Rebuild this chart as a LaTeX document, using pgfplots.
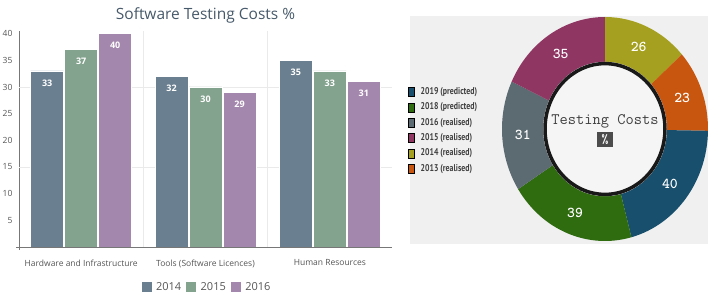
\documentclass[border=0pt]{standalone}
\usepackage{fontspec}
\setmainfont{Open Sans}
\newfontfamily\legfont[FakeStretch=0.8]{PT Sans}
\usepackage{pgfplots}
\usepackage{pgfplotstable}
\pgfplotsset{compat=1.18}

% bar chart colours
\definecolor{c2014}{HTML}{6A7F8F}
\definecolor{c2015}{HTML}{84A38E}
\definecolor{c2016}{HTML}{A487AD}
\definecolor{titlecol}{HTML}{46596A}
\definecolor{labelcol}{HTML}{555555}
\definecolor{gridcol}{HTML}{EAEAEA}
% donut colours
\definecolor{panelbg}{HTML}{F0F0F0}
\definecolor{holebg}{HTML}{F5F5F5}
\definecolor{dBlue}{HTML}{184F6D}
\definecolor{dGreen}{HTML}{2F6B0F}
\definecolor{dGrey}{HTML}{5C6A72}
\definecolor{dMagenta}{HTML}{8F3663}
\definecolor{dOlive}{HTML}{A5A020}
\definecolor{dOrange}{HTML}{C8560F}

\pgfplotstableread{
cat y2014 y2015 y2016
0   33    37    40
1   32    30    29
2   35    33    31
}\costs

% clockwise from twelve o'clock
\pgfplotstableread{
value colour
26 dOlive
23 dOrange
40 dBlue
39 dGreen
31 dGrey
35 dMagenta
}\donut

\tikzset{donut label/.style={text=white, font=\ttfamily\bfseries\fontsize{15}{15}\selectfont}}

\begin{document}
\begin{tikzpicture}
\fill[panelbg] (410pt,-16pt) rectangle (708pt,-244pt);

\begin{axis}[
  at={(19pt,-247pt)}, anchor=south west,
  scale only axis, width=373pt, height=216pt,
  xmin=-0.5, xmax=2.5, ymin=0, ymax=40.5,
  ybar=1pt, bar width=33pt,
  axis x line*=bottom, axis y line*=left,
  axis line style={draw=labelcol!80, line width=0.6pt, -},
  x axis line style={shorten <=-3pt},
  y axis line style={shorten <=-3pt},
  xtick={0,1,2},
  xticklabels={Hardware and Infrastructure, Tools (Software Licences), Human Resources},
  ytick={5,10,...,40},
  major tick length=0pt,
  /pgf/number format/assume math mode=true,
  tick label style={text=labelcol, font=\fontsize{8.5}{10}\selectfont},
  yticklabel style={xshift=-3pt},
  xticklabel style={yshift=-9pt},
  extra x ticks={0.5,1.5}, extra x tick labels={},
  extra x tick style={grid=major, major grid style={gridcol, line width=0.6pt}},
  extra y ticks={15,30}, extra y tick labels={},
  extra y tick style={grid=major, major grid style={gridcol, line width=0.6pt}},
  title={Software Testing Costs \%},
  title style={at={(0.5,1)}, anchor=center, yshift=10pt, text=titlecol,
    font=\fontsize{15.5}{16}\selectfont},
  nodes near coords,
  every node near coord/.append style={anchor=center, yshift=-12pt, text=white,
    font=\bfseries\fontsize{9}{9}\selectfont},
  legend style={at={(0.5,0)}, anchor=center, yshift=-40pt, draw=none, fill=none,
    legend columns=3, font=\fontsize{11}{12}\selectfont, text=labelcol,
    nodes={inner sep=0pt},
    /tikz/every even column/.append style={column sep=4pt},
    /tikz/every odd column/.append style={column sep=4pt}},
  legend image code/.code={\fill[#1] (0pt,-5.5pt) rectangle (11pt,5.5pt);},
]
\addplot[fill=c2014, draw=white, line width=0.5pt] table[x=cat, y=y2014]{\costs};
\addplot[fill=c2015, draw=white, line width=0.5pt] table[x=cat, y=y2015]{\costs};
\addplot[fill=c2016, draw=white, line width=0.5pt] table[x=cat, y=y2016]{\costs};
\legend{2014, 2015, 2016}
\end{axis}

\begin{axis}[
  at={(605pt,-129pt)}, anchor=center,
  scale only axis, width=206pt, height=224pt,
  xmin=-1, xmax=1, ymin=-1, ymax=1,
  hide axis, clip=false,
  legend style={at={(-0.456,0.6875)}, anchor=north west, draw=none, fill=none,
    inner sep=0pt, legend cell align=left, text=black!75,
    font=\legfont\bfseries\fontsize{9.8}{10}\selectfont,
    nodes={inner sep=0pt, text height=7pt, text depth=2pt},
    row sep=6pt,
    /tikz/every odd column/.append style={column sep=6pt}},
  legend image code/.code={\fill[#1] (0pt,-4.5pt) rectangle (6pt,4.5pt);},
]
\addlegendimage{fill=dBlue}\addlegendentry{2019 (predicted)}
\addlegendimage{fill=dGreen}\addlegendentry{2018 (predicted)}
\addlegendimage{fill=dGrey}\addlegendentry{2016 (realised)}
\addlegendimage{fill=dMagenta}\addlegendentry{2015 (realised)}
\addlegendimage{fill=dOlive}\addlegendentry{2014 (realised)}
\addlegendimage{fill=dOrange}\addlegendentry{2013 (realised)}

\pgfplotstablegetrowsof{\donut}
\pgfmathtruncatemacro\lastrow{\pgfplotsretval-1}
\def\total{0}
\pgfplotsforeachungrouped \i in {0,...,\lastrow}{%
  \pgfplotstablegetelem{\i}{value}\of\donut
  \pgfmathsetmacro\total{\total+\pgfplotsretval}%
}
\def\startang{90}
\pgfplotsforeachungrouped \i in {0,...,\lastrow}{%
  \pgfplotstablegetelem{\i}{value}\of\donut \let\val\pgfplotsretval
  \pgfplotstablegetelem{\i}{colour}\of\donut \let\col\pgfplotsretval
  \pgfmathsetmacro\endang{\startang-\val/\total*360}%
  \pgfmathsetmacro\midang{(\startang+\endang)/2}%
  \edef\sector{%
    \noexpand\fill[\col] (axis cs:{cos(\startang)},{sin(\startang)})
      arc[start angle=\startang, end angle=\endang, x radius=103pt, y radius=112pt]
      -- (axis cs:{0.6*cos(\endang)},{0.6*sin(\endang)})
      arc[start angle=\endang, end angle=\startang, x radius=61.8pt, y radius=67.2pt]
      -- cycle;
    \noexpand\node[donut label] at (axis cs:{0.8*cos(\midang)},{0.8*sin(\midang)}) {\val};
  }%
  \sector
  \let\startang\endang
}
\fill[holebg] (axis cs:0,0) ellipse[x radius=61.8pt, y radius=67.2pt];
\draw[black!90, line width=3.5pt] (axis cs:0,0) ellipse[x radius=60pt, y radius=65.4pt];
\node[font=\ttfamily\fontsize{16}{16}\selectfont, text=black!75] at (axis cs:0,0.07) {Testing Costs};
\node[font=\ttfamily\bfseries\fontsize{13}{13}\selectfont, text=white, fill=black!70,
  inner sep=0pt, minimum width=16pt, minimum height=15pt]
  at (axis cs:0,-0.098) {\%};
\end{axis}

\pgfresetboundingbox
\path[use as bounding box] (0,0) rectangle (713pt,-296pt);
\end{tikzpicture}
\end{document}
